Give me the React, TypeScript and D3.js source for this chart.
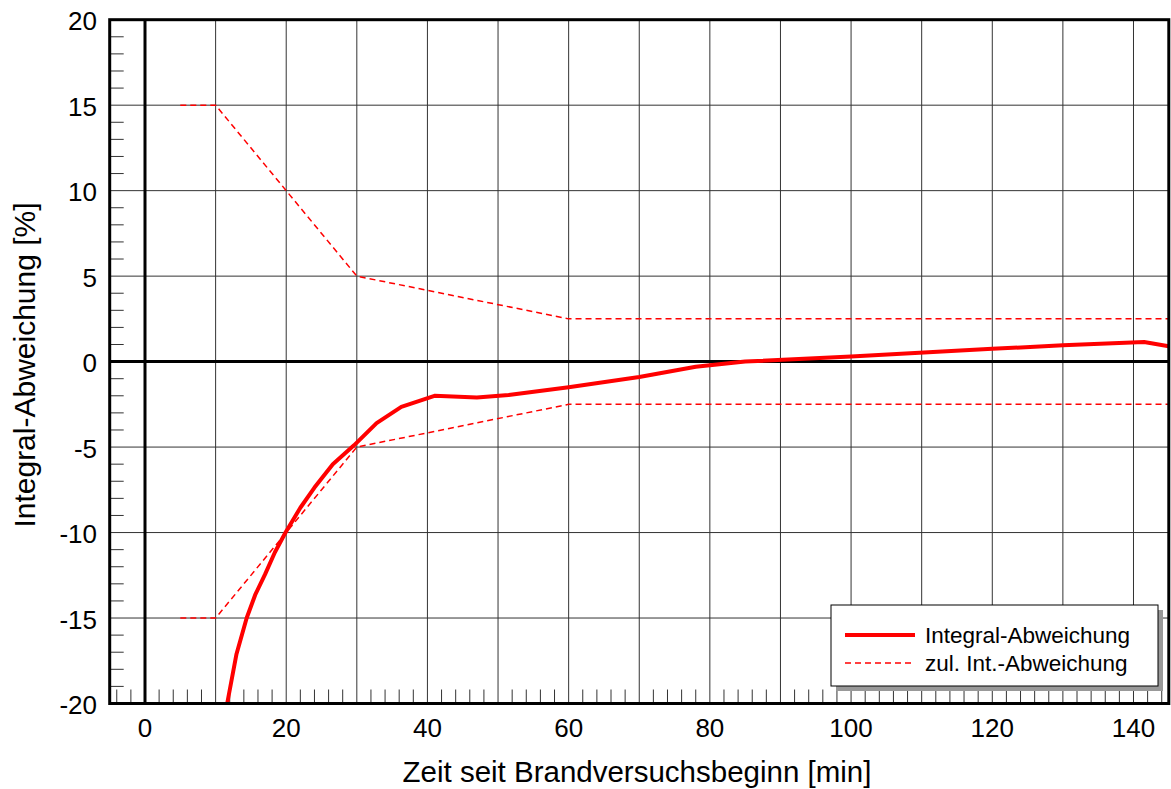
import React from "react";
import * as d3 from "d3";

const integralT = [11.64, 12.96, 14.4, 15.6, 17, 18.4, 19.9, 22, 24, 26.6, 29.6, 32.8, 36.3, 41, 47, 51.5, 60, 70, 78, 85, 100, 120, 130, 141.5, 145];
const integralV = [-20, -17.1, -15, -13.65, -12.45, -11.15, -10, -8.55, -7.37, -6.0, -4.9, -3.6, -2.65, -2.0, -2.1, -1.95, -1.5, -0.9, -0.3, 0, 0.3, 0.75, 0.95, 1.15, 0.9];
const limitT = [5, 10, 30, 60, 145];
const upperV = [15, 15, 5, 2.5, 2.5];
const lowerV = [-15, -15, -5, -2.5, -2.5];
const xTicks = [0, 20, 40, 60, 80, 100, 120, 140];
const yTicks = [-20, -15, -10, -5, 0, 5, 10, 15, 20];
const xGrid = d3.range(10, 141, 10);
const xMinor = d3.range(-4, 145, 2);
const yMinor = d3.range(-19, 20, 1);

export default function App() {
  const W = 1171, H = 789;
  const x = d3.scaleLinear().domain([-5, 145]).range([109.7, 1168.8]);
  const y = d3.scaleLinear().domain([-20, 20]).range([703.5, 19.7]);
  const line = d3.line<[number, number]>().x(d => x(d[0])).y(d => y(d[1]));
  const integral = integralT.map((t, i) => [t, integralV[i]] as [number, number]);
  const upper = limitT.map((t, i) => [t, upperV[i]] as [number, number]);
  const lower = limitT.map((t, i) => [t, lowerV[i]] as [number, number]);
  const font = "'Liberation Sans', Arial, Helvetica, sans-serif";
  const x0 = x(-5), x1 = x(145), y0 = y(-20), y1 = y(20);
  const lg = { x: 831, y: 605, w: 327, h: 81 };
  return (
    <svg width={W} height={H} style={{ position: "absolute", left: 0, top: 0, background: "#fff" }} fontFamily={font}>
      <defs>
        <clipPath id="plot">
          <rect x={x0} y={y1} width={x1 - x0} height={y0 - y1} />
        </clipPath>
      </defs>
      {/* grid */}
      {xGrid.map(v => (
        <line key={"xg" + v} x1={x(v)} x2={x(v)} y1={y1} y2={y0} stroke="#333" strokeWidth={1} />
      ))}
      {yTicks.map(v => (
        <line key={"yg" + v} x1={x0} x2={x1} y1={y(v)} y2={y(v)} stroke="#333" strokeWidth={1} />
      ))}
      {/* minor ticks */}
      {yMinor.filter(v => v % 5 !== 0).map(v => (
        <line key={"ym" + v} x1={x0} x2={x0 + 14} y1={y(v)} y2={y(v)} stroke="#333" strokeWidth={1} />
      ))}
      {xMinor.filter(v => v % 10 !== 0).map(v => (
        <line key={"xm" + v} x1={x(v)} x2={x(v)} y1={y0} y2={y0 - 14} stroke="#333" strokeWidth={1} />
      ))}
      {/* zero lines */}
      <line x1={x(0)} x2={x(0)} y1={y1} y2={y0} stroke="#000" strokeWidth={3} />
      <line x1={x0} x2={x1} y1={y(0)} y2={y(0)} stroke="#000" strokeWidth={3} />
      {/* data */}
      <g clipPath="url(#plot)">
        <path d={line(upper) || ""} fill="none" stroke="#ff0000" strokeWidth={1.5} strokeDasharray="6,4" />
        <path d={line(lower) || ""} fill="none" stroke="#ff0000" strokeWidth={1.5} strokeDasharray="6,4" />
        <path d={line(integral) || ""} fill="none" stroke="#ff0000" strokeWidth={4} strokeLinejoin="round" />
      </g>
      {/* frame */}
      <rect x={x0} y={y1} width={x1 - x0} height={y0 - y1} fill="none" stroke="#000" strokeWidth={3} />
      {/* legend */}
      <rect x={lg.x + 5} y={lg.y + 5} width={lg.w} height={lg.h} fill="#999" />
      <rect x={lg.x} y={lg.y} width={lg.w} height={lg.h} fill="#fff" stroke="#000" strokeWidth={1} />
      <line x1={lg.x + 14} x2={lg.x + 84} y1={lg.y + 30} y2={lg.y + 30} stroke="#ff0000" strokeWidth={4} />
      <line x1={lg.x + 14} x2={lg.x + 84} y1={lg.y + 58} y2={lg.y + 58} stroke="#ff0000" strokeWidth={1.5} strokeDasharray="6,4" />
      <text x={lg.x + 94} y={lg.y + 38} fontSize={22.5} fill="#000">Integral-Abweichung</text>
      <text x={lg.x + 94} y={lg.y + 66} fontSize={22.5} fill="#000">zul. Int.-Abweichung</text>
      {/* tick labels */}
      {yTicks.map(v => (
        <text key={"yl" + v} x={97} y={y(v) + 10.5} fontSize={26} textAnchor="end" fill="#000">{v}</text>
      ))}
      {xTicks.map(v => (
        <text key={"xl" + v} x={x(v)} y={737} fontSize={26} textAnchor="middle" fill="#000">{v}</text>
      ))}
      {/* axis titles */}
      <text x={637} y={782} fontSize={29.5} textAnchor="middle" fill="#000">Zeit seit Brandversuchsbeginn [min]</text>
      <text transform={`translate(35,365) rotate(-90)`} fontSize={30} textAnchor="middle" fill="#000">Integral-Abweichung [%]</text>
    </svg>
  );
}
